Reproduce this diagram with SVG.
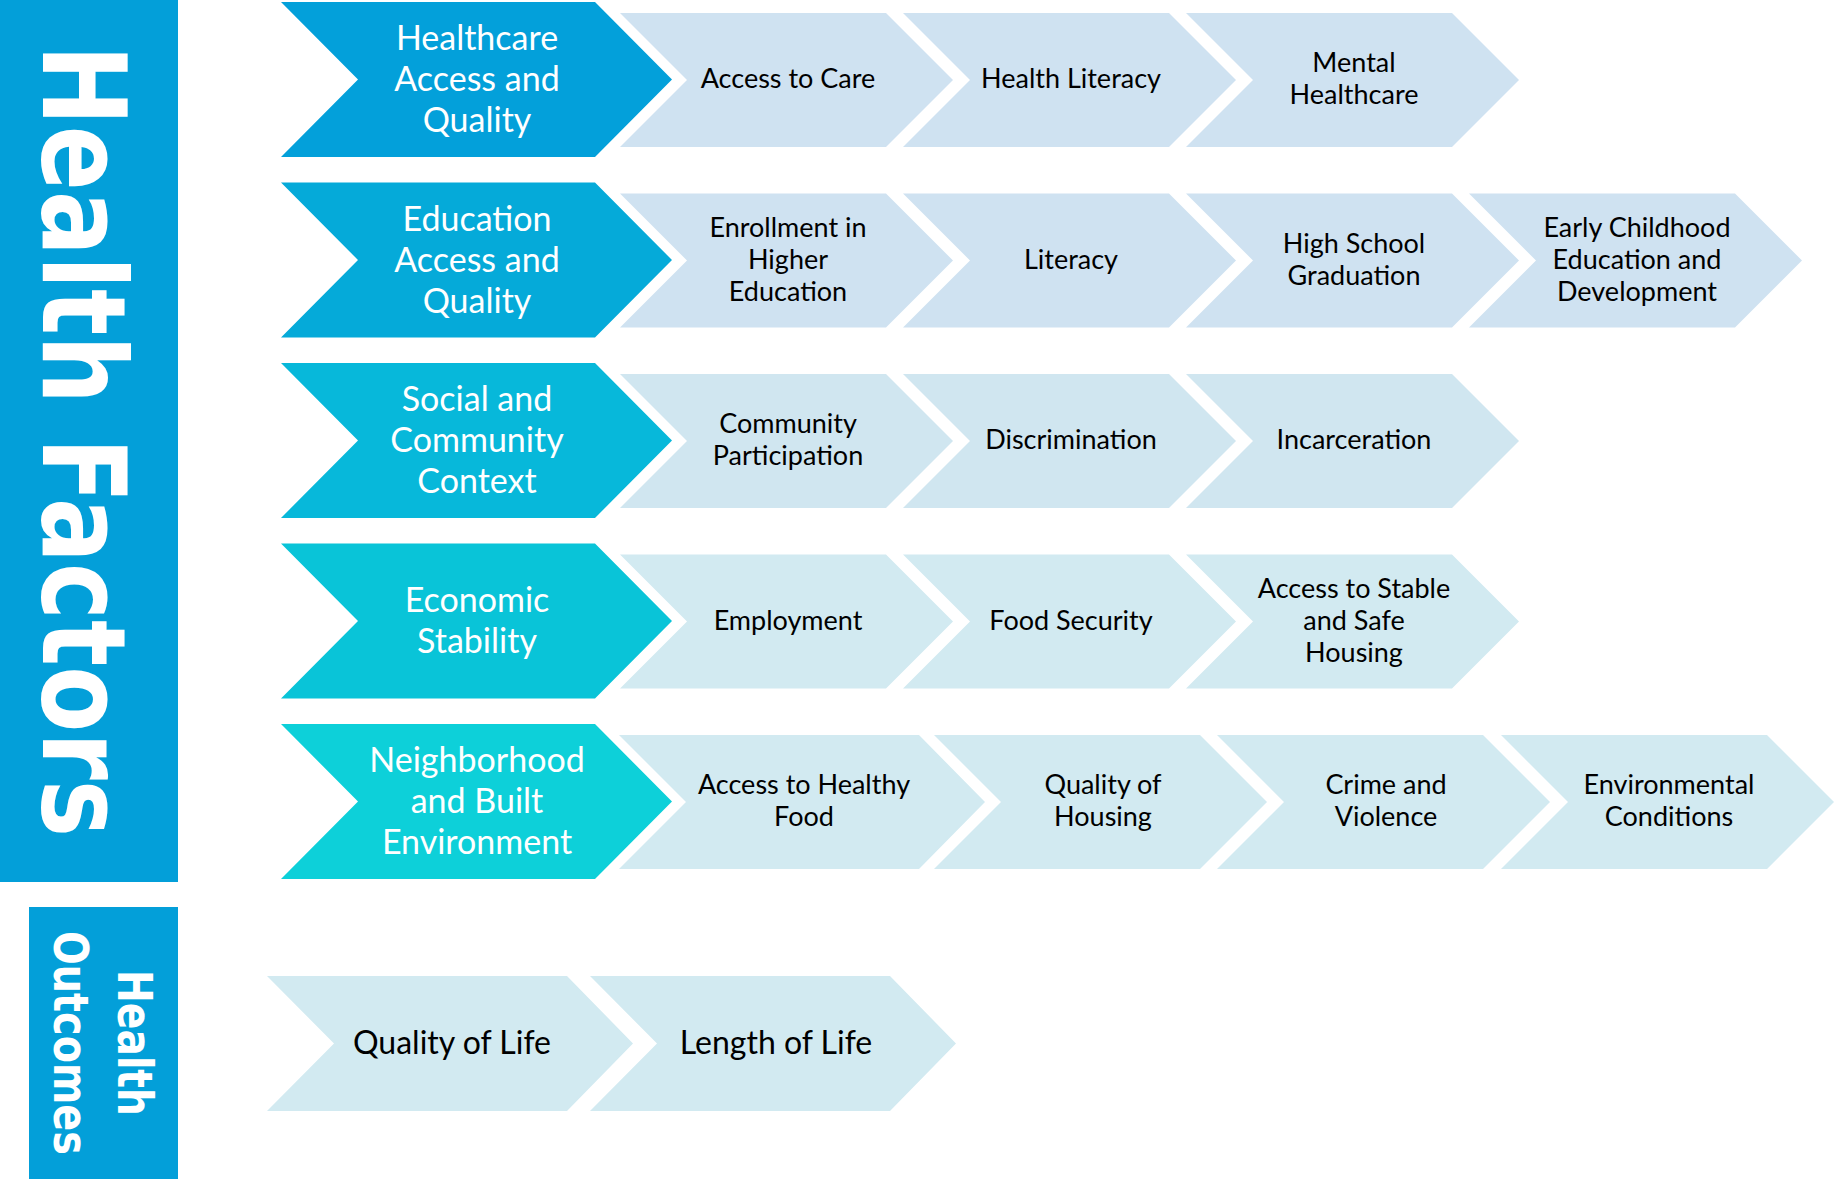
<svg xmlns="http://www.w3.org/2000/svg" width="1836" height="1179" viewBox="0 0 1836 1179">
<style>
.bar{fill:#039fd9}
.lab{font-family:"DejaVu Sans",Verdana,sans-serif;font-weight:bold;fill:#fff;text-anchor:middle}
.dk{font-family:Lato,"Open Sans",sans-serif;font-size:34px;fill:#fff;text-anchor:middle}
.lt{font-family:Lato,"Open Sans",sans-serif;font-size:27px;fill:#000;text-anchor:middle}
.oc{font-family:Lato,"Open Sans",sans-serif;font-size:32px;fill:#000;text-anchor:middle}
.d1{fill:#03a0da}.d2{fill:#05aad9}.d3{fill:#07b8da}.d4{fill:#09c4d8}.d5{fill:#0dd0d9}
.l1{fill:#cfe2f1}.l3{fill:#d0e6f0}.l4{fill:#d2eaf1}
</style>
<defs>
<polygon id="dchev" points="281,2 595,2 672,79.5 595,157 281,157 358,79.5"/>
<polygon id="lchev" points="0,13 266,13 333,80 266,147 0,147 67,80"/>
<polygon id="lchevw" points="0,13 300,13 366,80 300,147 0,147 67,80"/>
</defs>

<g id="health-factors">
<rect class="bar" x="0" y="0" width="178" height="882"/>
<text class="lab" font-size="115" transform="translate(43,441) rotate(90) scale(0.839,1)">Health Factors</text>
</g>

<g id="health-outcomes">
<rect class="bar" x="29" y="907" width="149" height="272"/>
<text class="lab" font-size="48" transform="translate(118,1043) rotate(90) scale(0.817,1)">Health</text>
<text class="lab" font-size="48" transform="translate(54,1043) rotate(90) scale(0.828,1)">Outcomes</text>
</g>

<!-- Row 1 -->
<g id="healthcare-access">
<use href="#dchev" class="d1"/>
<text class="dk"><tspan x="477" y="50">Healthcare</tspan><tspan x="477" y="91">Access and</tspan><tspan x="477" y="132">Quality</tspan></text>
</g>
<g id="access-to-care"><use href="#lchev" class="l1" x="620"/><text class="lt" x="788" y="88">Access to Care</text></g>
<g id="health-literacy"><use href="#lchev" class="l1" x="903"/><text class="lt" x="1071" y="88">Health Literacy</text></g>
<g id="mental-healthcare"><use href="#lchev" class="l1" x="1186"/><text class="lt"><tspan x="1354" y="72">Mental</tspan><tspan x="1354" y="104">Healthcare</tspan></text></g>

<!-- Row 2 -->
<g transform="translate(0,180.5)">
<g id="education-access">
<use href="#dchev" class="d2"/>
<text class="dk"><tspan x="477" y="50">Education</tspan><tspan x="477" y="91">Access and</tspan><tspan x="477" y="132">Quality</tspan></text>
</g>
<g id="enrollment-higher-ed"><use href="#lchev" class="l1" x="620"/><text class="lt"><tspan x="788" y="56">Enrollment in</tspan><tspan x="788" y="88">Higher</tspan><tspan x="788" y="120">Education</tspan></text></g>
<g id="literacy"><use href="#lchev" class="l1" x="903"/><text class="lt" x="1071" y="88">Literacy</text></g>
<g id="high-school-graduation"><use href="#lchev" class="l1" x="1186"/><text class="lt"><tspan x="1354" y="72">High School</tspan><tspan x="1354" y="104">Graduation</tspan></text></g>
<g id="early-childhood"><use href="#lchev" class="l1" x="1469"/><text class="lt"><tspan x="1637" y="56">Early Childhood</tspan><tspan x="1637" y="88">Education and</tspan><tspan x="1637" y="120">Development</tspan></text></g>
</g>

<!-- Row 3 -->
<g transform="translate(0,361)">
<g id="social-community">
<use href="#dchev" class="d3"/>
<text class="dk"><tspan x="477" y="50">Social and</tspan><tspan x="477" y="91">Community</tspan><tspan x="477" y="132">Context</tspan></text>
</g>
<g id="community-participation"><use href="#lchev" class="l3" x="620"/><text class="lt"><tspan x="788" y="72">Community</tspan><tspan x="788" y="104">Participation</tspan></text></g>
<g id="discrimination"><use href="#lchev" class="l3" x="903"/><text class="lt" x="1071" y="88">Discrimination</text></g>
<g id="incarceration"><use href="#lchev" class="l3" x="1186"/><text class="lt" x="1354" y="88">Incarceration</text></g>
</g>

<!-- Row 4 -->
<g transform="translate(0,541.5)">
<g id="economic-stability">
<use href="#dchev" class="d4"/>
<text class="dk"><tspan x="477" y="70">Economic</tspan><tspan x="477" y="111">Stability</tspan></text>
</g>
<g id="employment"><use href="#lchev" class="l4" x="620"/><text class="lt" x="788" y="88">Employment</text></g>
<g id="food-security"><use href="#lchev" class="l4" x="903"/><text class="lt" x="1071" y="88">Food Security</text></g>
<g id="stable-housing"><use href="#lchev" class="l4" x="1186"/><text class="lt"><tspan x="1354" y="56">Access to Stable</tspan><tspan x="1354" y="88">and Safe</tspan><tspan x="1354" y="120">Housing</tspan></text></g>
</g>

<!-- Row 5 -->
<g transform="translate(0,722)">
<g id="neighborhood">
<use href="#dchev" class="d5"/>
<text class="dk"><tspan x="477" y="50">Neighborhood</tspan><tspan x="477" y="91">and Built</tspan><tspan x="477" y="132">Environment</tspan></text>
</g>
<g id="healthy-food"><use href="#lchevw" class="l4" x="619"/><text class="lt"><tspan x="804" y="72">Access to Healthy</tspan><tspan x="804" y="104">Food</tspan></text></g>
<g id="quality-housing"><use href="#lchev" class="l4" x="934"/><text class="lt"><tspan x="1103" y="72">Quality of</tspan><tspan x="1103" y="104">Housing</tspan></text></g>
<g id="crime-violence"><use href="#lchev" class="l4" x="1217"/><text class="lt"><tspan x="1386" y="72">Crime and</tspan><tspan x="1386" y="104">Violence</tspan></text></g>
<g id="environmental-conditions"><use href="#lchev" class="l4" x="1501"/><text class="lt"><tspan x="1669" y="72">Environmental</tspan><tspan x="1669" y="104">Conditions</tspan></text></g>
</g>

<!-- Outcomes -->
<g id="quality-of-life"><polygon class="l4" points="267,976 567,976 633,1043.5 567,1111 267,1111 334,1043.5"/><text class="oc" x="452" y="1054">Quality of Life</text></g>
<g id="length-of-life"><polygon class="l4" points="590,976 890,976 956,1043.5 890,1111 590,1111 657,1043.5"/><text class="oc" x="776" y="1054">Length of Life</text></g>

<g id="connectors"/>
</svg>
